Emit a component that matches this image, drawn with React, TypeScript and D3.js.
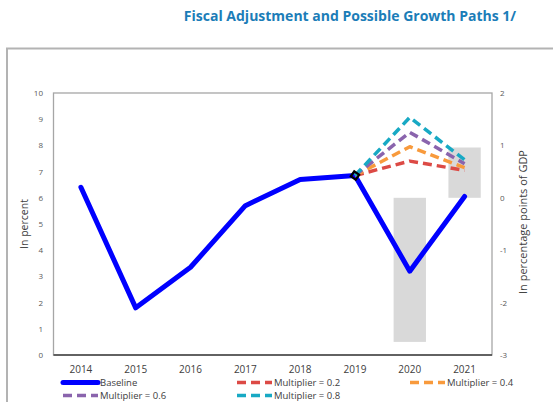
import React from "react";
import * as d3 from "d3";

const years = ["2014", "2015", "2016", "2017", "2018", "2019", "2020", "2021"];
const baseline = [6.4, 1.8, 3.35, 5.7, 6.7, 6.85, 3.2, 6.05];
const scenarioYears = ["2019", "2020", "2021"];
const mult02 = [6.85, 7.4, 7.05];
const mult04 = [6.85, 7.95, 7.15];
const mult06 = [6.85, 8.5, 7.3];
const mult08 = [6.85, 9.07, 7.45];
const barYears = ["2020", "2021"];
const barValues = [-2.75, 0.96];
const leftTicks = [0, 1, 2, 3, 4, 5, 6, 7, 8, 9, 10];
const rightTicks = [-3, -2, -1, 0, 1, 2];

const W = 553, H = 402;
const L = 53.5, R = 492, T = 93, B = 355;
const FONT = "'Open Sans', sans-serif";
const TICKC = "#595959";

const scenarios = [
  { name: "Multiplier = 0.2", values: mult02, color: "#dc4a45" },
  { name: "Multiplier = 0.4", values: mult04, color: "#f89a3c" },
  { name: "Multiplier = 0.6", values: mult06, color: "#8a64ad" },
  { name: "Multiplier = 0.8", values: mult08, color: "#18a9c4" },
];

export default function App() {
  const x = d3.scaleBand().domain(years).range([L, R]).paddingInner(0).paddingOuter(0);
  const xb = d3.scaleBand().domain(years).range([L, R]).paddingInner(0.41).paddingOuter(0.205);
  const cx = (d: string) => (x(d) as number) + x.bandwidth() / 2;
  const yL = d3.scaleLinear().domain([0, 10]).range([B, T]);
  const yR = d3.scaleLinear().domain([-3, 2]).range([B, T]);

  const line = d3.line<[string, number]>().x((d) => cx(d[0])).y((d) => yL(d[1]));
  const basePath = line(years.map((y, i) => [y, baseline[i]]))!;
  const dash = "9,5";

  const legendItems = [
    { name: "Baseline", color: "#0000ff", dashed: false, lx: 63, ly: 386 },
    { name: scenarios[0].name, color: scenarios[0].color, dashed: true, lx: 237, ly: 386 },
    { name: scenarios[1].name, color: scenarios[1].color, dashed: true, lx: 410, ly: 386 },
    { name: scenarios[2].name, color: scenarios[2].color, dashed: true, lx: 63, ly: 399 },
    { name: scenarios[3].name, color: scenarios[3].color, dashed: true, lx: 237, ly: 399 },
  ];

  const marker = d3.symbol().type(d3.symbolSquare).size(36)()!;

  return (
    <svg width={W} height={H} style={{ position: "absolute", left: 0, top: 0, background: "#fff" }}>
      <text x={350} y={21} textAnchor="middle" fontFamily={FONT} fontWeight="bold" fontSize={14} fill="#1b7db8">
        Fiscal Adjustment and Possible Growth Paths 1/
      </text>
      <rect x={7} y={48.5} width={560} height={370} fill="none" stroke="#b3b3b3" strokeWidth={2} />

      {/* plot frame */}
      <rect x={L} y={T} width={R - L} height={B - T} fill="#fff" stroke="#a6a6a6" strokeWidth={1.3} />

      {/* bars */}
      {barYears.map((y, i) => {
        const v = barValues[i];
        const y0 = yR(0), y1 = yR(v);
        return (
          <rect key={y} x={xb(y)} width={xb.bandwidth()} y={Math.min(y0, y1)} height={Math.abs(y1 - y0)} fill="#d9d9d9" />
        );
      })}

      <line x1={L} x2={R} y1={B} y2={B} stroke="#404040" strokeWidth={1.5} />

      {/* left ticks */}
      {leftTicks.map((t) => (
        <text key={"l" + t} x={43} y={yL(t) + 3} textAnchor="end" fontFamily={FONT} fontSize={8} fill={TICKC}>
          {t}
        </text>
      ))}
      {rightTicks.map((t) => (
        <text key={"r" + t} x={500} y={yR(t) + 3} textAnchor="start" fontFamily={FONT} fontSize={8} fill={TICKC}>
          {t}
        </text>
      ))}
      {years.map((y) => (
        <text key={"x" + y} x={cx(y)} y={372.5} textAnchor="middle" fontFamily={FONT} fontSize={10} fill="#404040">
          {y}
        </text>
      ))}

      <text transform={`translate(28,${(T + B) / 2}) rotate(-90)`} textAnchor="middle" fontFamily={FONT} fontSize={10.5} fill="#404040">
        In percent
      </text>
      <text transform={`translate(527,${(T + B) / 2 - 2}) rotate(-90)`} textAnchor="middle" fontFamily={FONT} fontSize={11} fill="#404040">
        In percentage points of GDP
      </text>

      {/* baseline */}
      <path d={basePath} fill="none" stroke="#0000ff" strokeWidth={5} strokeLinejoin="round" strokeLinecap="round" />

      {/* scenarios */}
      {scenarios.map((s) => (
        <path
          key={s.name}
          d={line(scenarioYears.map((y, i) => [y, s.values[i]]))!}
          fill="none"
          stroke={s.color}
          strokeWidth={3.5}
          strokeDasharray={dash}
          strokeLinejoin="round"
        />
      ))}

      <path d={marker} transform={`translate(${cx("2019")},${yL(baseline[5])}) rotate(35)`} fill="none" stroke="#000" strokeWidth={2.2} />

      {/* legend */}
      {legendItems.map((it) => (
        <g key={it.name}>
          <line
            x1={it.lx}
            x2={it.lx + 35}
            y1={it.ly - 3.5}
            y2={it.ly - 3.5}
            stroke={it.color}
            strokeWidth={it.dashed ? 3.5 : 5}
            strokeDasharray={it.dashed ? "9,5" : undefined}
            strokeLinecap={it.dashed ? "butt" : "round"}
          />
          <text x={it.lx + 37} y={it.ly} fontFamily={FONT} fontSize={9.5} fill="#404040">
            {it.name}
          </text>
        </g>
      ))}
    </svg>
  );
}
